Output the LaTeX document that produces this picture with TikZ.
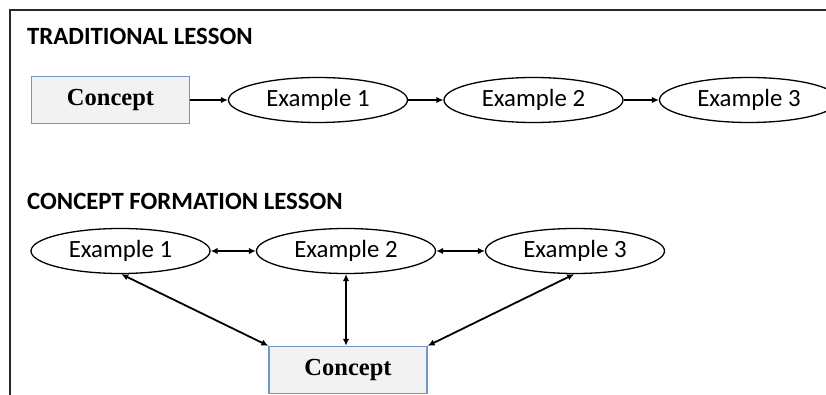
\documentclass[tikz,border=0pt]{standalone}
\usepackage{fontspec}
\setmainfont{Carlito}
\newfontfamily\timesfont{Liberation Serif}
\usetikzlibrary{arrows.meta,shapes.geometric}
\definecolor{boxfill}{RGB}{242,242,242}
\definecolor{boxline}{RGB}{112,150,198}
\definecolor{framecol}{RGB}{40,40,40}
\begin{document}
\begin{tikzpicture}[x=1pt,y=-1pt,
  conceptbox/.style={draw=boxline,line width=1.4pt,fill=boxfill,minimum width=158pt,minimum height=47pt,inner sep=0pt,font=\timesfont\fontsize{24.5}{28}\selectfont\bfseries},
  exell/.style={draw,ellipse,line width=1.3pt,minimum width=179pt,minimum height=45pt,inner sep=0pt,font=\fontsize{24.8}{28}\selectfont},
  heading/.style={anchor=west,inner sep=0pt,font=\fontsize{24.8}{28}\selectfont\bfseries},
  arr/.style={line width=1.8pt,-{Latex[length=7pt,width=6.5pt]}},
  darr/.style={line width=1.8pt,{Latex[length=7pt,width=6.5pt]}-{Latex[length=7pt,width=6.5pt]}}
]
\clip (0,0) rectangle (826,395);
\fill[white] (0,0) rectangle (826,395);
\draw[framecol,line width=2.2pt] (10,400) -- (10,10) -- (830,10);

\node[heading] (h1) at (27,36) {TRADITIONAL LESSON};
\node[conceptbox] (c1) at (110.5,100) {Concept};
\node[exell] (a1) at (318,100) {Example 1};
\node[exell] (a2) at (533.5,100) {Example 2};
\node[exell] (a3) at (749,100) {Example 3};
\draw[arr] (c1) -- (a1);
\draw[arr] (a1) -- (a2);
\draw[arr] (a2) -- (a3);

\node[heading] (h2) at (27,201) {CONCEPT FORMATION LESSON};
\node[exell] (b1) at (120.5,251) {Example 1};
\node[exell] (b2) at (346,251) {Example 2};
\node[exell] (b3) at (575,251) {Example 3};
\node[conceptbox] (c2) at (348,370) {Concept};
\draw[darr] (b1) -- (b2);
\draw[darr] (b2) -- (b3);
\draw[darr] (b1.-88) -- (c2.north west);
\draw[darr] (b2.south) -- (b2.south |- c2.north);
\draw[darr] (b3.-92) -- (c2.north east);
\end{tikzpicture}
\end{document}
